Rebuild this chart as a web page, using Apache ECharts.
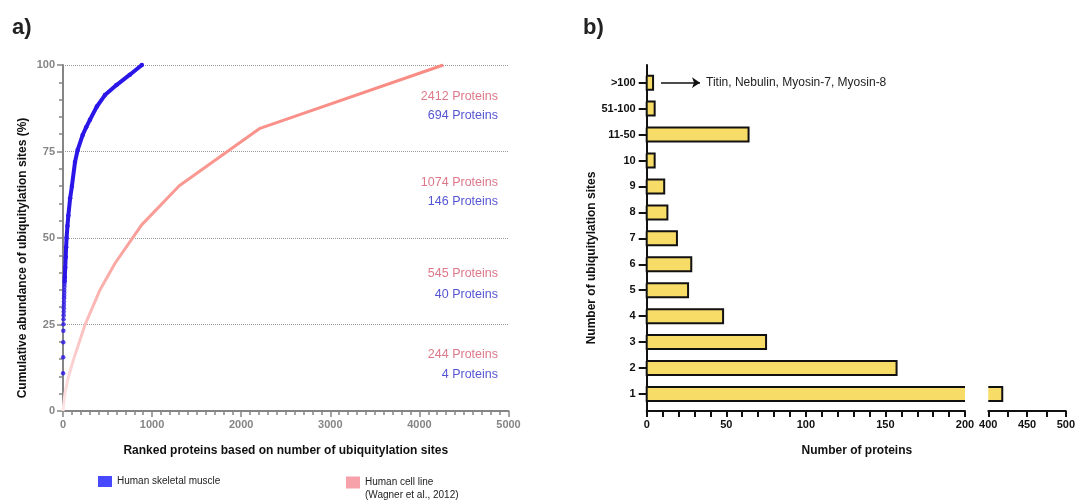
<!DOCTYPE html>
<html><head><meta charset="utf-8">
<script src="https://cdn.jsdelivr.net/npm/echarts@6/dist/echarts.min.js"></script>
<style>html,body{margin:0;padding:0;background:#fff}#c{width:1078px;height:502px}</style>
</head><body><div id="c"></div>
<script>
// ---- Panel a) data ----
const muscleDotRank = [1,2,3,4,5,6,7,8,9,10,11,12,13,14,15,16,17];
const muscleDotCum  = [10.9,15.5,19.9,23.2,25.1,26.5,27.7,28.7,29.7,30.6,31.6,32.6,33.3,34.2,35,35.9,36.7];
const muscleRank = [18,20,25,30,35,40,50,60,80,100,135,165,221,260,303,380,471,600,750,885];
const muscleCum  = [37.4,38.6,41.5,44.5,47.3,50,53.5,56.5,61.5,65,72,75.5,79.8,82,84.2,88,91.3,94.2,97.2,100];
const cellRank = [0,22,60,116,247,415,584,883,1305,2211,4268];
const cellCum  = [0,5.1,9.8,14.7,24.9,35,42.7,53.8,65.1,81.7,100];
const cellLabels = ['2412 Proteins','1074 Proteins','545 Proteins','244 Proteins'];
const cellLabelLevels = [91.0,65.9,39.6,16.2];
const muscleLabels = ['694 Proteins','146 Proteins','40 Proteins','4 Proteins'];
const muscleLabelLevels = [85.3,60.4,33.8,10.4];
const labelAnchorX = 4882;
// ---- Panel b) data ----
const siteCats = ['1','2','3','4','5','6','7','8','9','10','11-50','51-100','>100'];
const proteinCounts = [418,157,75,48,26,28,19,13,11,5,64,5,4];
const arrowFrom = 9, arrowTo = 33.5;
const arrowText = 'Titin, Nebulin, Myosin-7, Myosin-8';

const FONT = '"Liberation Sans", Arial, Helvetica, sans-serif';
const GREY = '#858585';
const BLUE = '#2b16e8';

function barRender(axMin, axMax){
  return function(params, api){
    const v = api.value(0), c = api.value(1);
    if (v <= axMin) return null;
    const hi = Math.min(v, axMax);
    const p0 = api.coord([axMin, c]), p1 = api.coord([hi, c]);
    const h = 14;
    const top = p0[1]-h/2, bot = p0[1]+h/2, x0 = p0[0], x1 = p1[0];
    const openL = axMin > 0, openR = v > axMax;
    let children = [{type:'rect', shape:{x:x0,y:top,width:x1-x0,height:h}, style:{fill:'#f8dc68'}}];
    let pts;
    if (openR && !openL) pts = [[x1,top],[x0,top],[x0,bot],[x1,bot]];
    else if (openL && !openR) pts = [[x0,top],[x1,top],[x1,bot],[x0,bot]];
    else pts = [[x0,top],[x1,top],[x1,bot],[x0,bot],[x0,top]];
    children.push({type:'polyline', shape:{points:pts}, style:{stroke:'#111', lineWidth:2, fill:null, lineJoin:'miter'}});
    return {type:'group', children};
  };
}

const catIdx = siteCats.map((_,i)=>i);
const catAxisBase = {
  type:'value', min:-0.655, max:12.68,
  splitLine:{show:false},
  axisLine:{show:true, onZero:false, lineStyle:{color:'#111', width:2}},
  axisTick:{show:true, length:8, lineStyle:{color:'#111', width:2}, customValues:catIdx},
  axisLabel:{show:true, customValues:catIdx, formatter:v=>siteCats[Math.round(v)], color:'#111', fontWeight:'bold', fontSize:11, fontFamily:FONT, margin:11}
};

const chart = echarts.init(document.getElementById('c'), null, {renderer:'canvas'});
chart.setOption({
  animation:false,
  textStyle:{fontFamily:FONT},
  title:[
    {text:'a)', left:7, top:12, textStyle:{fontSize:22, fontWeight:'bold', color:'#222', fontFamily:FONT}},
    {text:'b)', left:578, top:12, textStyle:{fontSize:22, fontWeight:'bold', color:'#222', fontFamily:FONT}}
  ],
  legend:[
    {left:98, top:476, padding:0, itemWidth:14, itemHeight:11, icon:'rect', selectedMode:false,
     data:[{name:'Human skeletal muscle', itemStyle:{color:'#1a1aff'}}],
     textStyle:{fontSize:10, color:'#222', fontFamily:FONT}},
    {left:346, top:463, padding:0, itemWidth:14, itemHeight:12, icon:'rect', selectedMode:false,
     data:[{name:'Human cell line', itemStyle:{color:'#f7a1ab'}}],
     formatter:n=>'\n'+n+'\n(Wagner et al., 2012)',
     textStyle:{fontSize:10, color:'#222', fontFamily:FONT, lineHeight:13}}
  ],
  grid:[
    {left:63, top:65, width:445.5, height:346, containLabel:false},
    {left:646.7, top:65, width:318.3, height:346, containLabel:false},
    {left:988.3, top:65, width:80, height:346, containLabel:false}
  ],
  xAxis:[
    {gridIndex:0, type:'value', min:0, max:5000, interval:1000,
     name:'Ranked proteins based on number of ubiquitylation sites', nameLocation:'middle', nameGap:34,
     nameTextStyle:{fontWeight:'bold', fontSize:12, color:'#111', fontFamily:FONT},
     axisLine:{onZero:false, lineStyle:{color:GREY, width:2}},
     axisTick:{length:6, lineStyle:{color:GREY, width:1.5}},
     minorTick:{show:true, splitNumber:10, length:4, lineStyle:{color:GREY, width:1.5}},
     splitLine:{show:false},
     axisLabel:{color:GREY, fontWeight:'bold', fontSize:11, margin:8, fontFamily:FONT, formatter:v=>String(v)}},
    {gridIndex:1, type:'value', min:0, max:200, interval:50,
     name:'Number of proteins', nameLocation:'middle', nameGap:34,
     nameTextStyle:{fontWeight:'bold', fontSize:12, color:'#111', fontFamily:FONT, padding:[0,0,0,102]},
     axisLine:{onZero:false, lineStyle:{color:'#111', width:2}},
     axisTick:{length:6, lineStyle:{color:'#111', width:2}},
     minorTick:{show:true, splitNumber:5, length:6, lineStyle:{color:'#111', width:2}},
     splitLine:{show:false},
     axisLabel:{color:'#111', fontWeight:'bold', fontSize:11, margin:8, fontFamily:FONT, showMaxLabel:true, formatter:v=>String(v)}},
    {gridIndex:2, type:'value', min:400, max:500, interval:50,
     axisLine:{onZero:false, lineStyle:{color:'#111', width:2}},
     axisTick:{length:6, lineStyle:{color:'#111', width:2}},
     minorTick:{show:true, splitNumber:2, length:6, lineStyle:{color:'#111', width:2}},
     splitLine:{show:false},
     axisLabel:{color:'#111', fontWeight:'bold', fontSize:11, margin:8, fontFamily:FONT, showMinLabel:true, formatter:v=>String(v)}}
  ],
  yAxis:[
    {gridIndex:0, type:'value', min:0, max:100, interval:25,
     name:'Cumulative abundance of ubiquitylation sites (%)', nameLocation:'middle', nameGap:34,
     nameTextStyle:{fontWeight:'bold', fontSize:12, color:'#111', fontFamily:FONT, padding:[0,40,0,0]},
     axisLine:{show:true, onZero:false, lineStyle:{color:GREY, width:2}},
     axisTick:{show:true, length:6, lineStyle:{color:GREY, width:1.5}},
     minorTick:{show:true, splitNumber:5, length:4, lineStyle:{color:GREY, width:1.5}},
     splitLine:{show:true, lineStyle:{color:'#9a9a9a', type:'dotted', width:1}},
     axisLabel:{color:GREY, fontWeight:'bold', fontSize:11, margin:8, fontFamily:FONT}},
    Object.assign({gridIndex:1,
     name:'Number of ubiquitylation sites', nameLocation:'middle', nameGap:49,
     nameTextStyle:{fontWeight:'bold', fontSize:12, color:'#111', fontFamily:FONT, padding:[0,40,0,0]}}, catAxisBase),
    Object.assign({}, catAxisBase, {gridIndex:2, show:false})
  ],
  series:[
    {name:'Human cell line', type:'line', xAxisIndex:0, yAxisIndex:0,
     data:cellRank.map((x,i)=>[x,cellCum[i]]), showSymbol:false, symbol:'none',
     itemStyle:{color:'#f7a1ab'},
     lineStyle:{width:3, color:new echarts.graphic.LinearGradient(0,0,0,1,[
       {offset:0,color:'#f98a82'},{offset:0.5,color:'#fa9f99'},{offset:0.8,color:'#fcc6c6'},{offset:1,color:'#fee8e8'}])},
     z:2},
    {name:'Human skeletal muscle', type:'scatter', xAxisIndex:0, yAxisIndex:0,
     data:muscleDotRank.map((x,i)=>[x,muscleDotCum[i]]), symbol:'circle', symbolSize:4.5,
     itemStyle:{color:BLUE}, z:3},
    {name:'Human skeletal muscle', type:'line', xAxisIndex:0, yAxisIndex:0,
     data:muscleRank.map((x,i)=>[x,muscleCum[i]]), showSymbol:true, symbol:'circle', symbolSize:4.5,
     itemStyle:{color:BLUE}, lineStyle:{width:4, color:BLUE}, z:3},
    {name:'cellAnnot', type:'scatter', xAxisIndex:0, yAxisIndex:0, symbolSize:0, silent:true,
     data:cellLabels.map((t,i)=>[labelAnchorX, cellLabelLevels[i], t]),
     label:{show:true, position:'left', distance:0, formatter:p=>p.value[2], color:'#d4566c', fontSize:12.5, fontFamily:FONT}},
    {name:'muscleAnnot', type:'scatter', xAxisIndex:0, yAxisIndex:0, symbolSize:0, silent:true,
     data:muscleLabels.map((t,i)=>[labelAnchorX, muscleLabelLevels[i], t]),
     label:{show:true, position:'left', distance:0, formatter:p=>p.value[2], color:'#2a2ac8', fontSize:12.5, fontFamily:FONT}},
    {name:'countsA', type:'custom', xAxisIndex:1, yAxisIndex:1,
     data:proteinCounts.map((v,i)=>[v,i]), encode:{x:0,y:1}, renderItem:barRender(0,200), z:3},
    {name:'countsB', type:'custom', xAxisIndex:2, yAxisIndex:2,
     data:proteinCounts.map((v,i)=>[v,i]), encode:{x:0,y:1}, renderItem:barRender(400,500), z:3},
    {name:'arrow', type:'lines', coordinateSystem:'cartesian2d', xAxisIndex:1, yAxisIndex:1,
     symbol:['none','arrow'], symbolSize:8, silent:true,
     lineStyle:{color:'#111', width:1.5, opacity:1},
     label:{show:true, position:'end', distance:6, formatter:arrowText, color:'#222', fontSize:12, fontFamily:FONT},
     data:[{coords:[[arrowFrom, siteCats.length-1],[arrowTo, siteCats.length-1]]}]}
  ]
});
</script></body></html>
